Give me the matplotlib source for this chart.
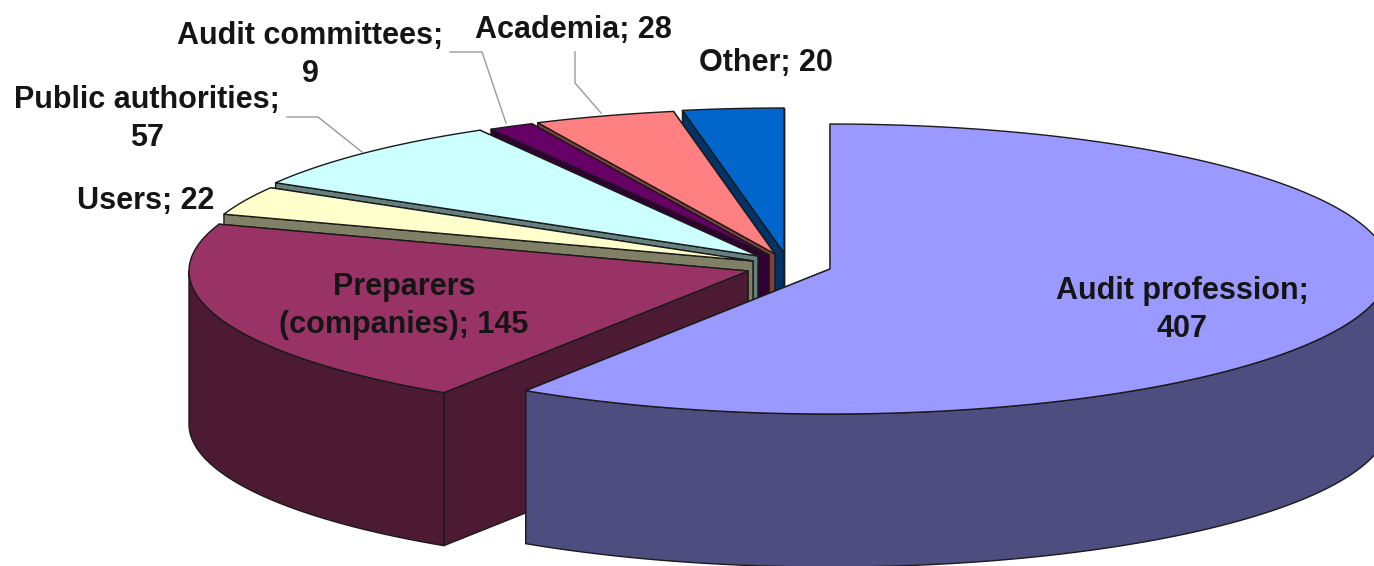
import numpy as np
import matplotlib
matplotlib.use("Agg")
import matplotlib.pyplot as plt
from matplotlib.patches import Polygon

# Data
categories = ["Audit profession", "Preparers\n(companies)", "Users", "Public authorities",
              "Audit committees", "Academia", "Other"]
values = [407, 145, 22, 57, 9, 28, 20]

# Style: colours and exploded apex of each slice (pixels)
top_colors = ["#9999FF", "#993366", "#FFFFCC", "#CCFFFF", "#660066", "#FF8080", "#0066CC"]
wall_colors = ["#4D4D80", "#4D1A33", "#808066", "#668080", "#330033", "#804040", "#003366"]
apex_x = [830, 748, 753, 758, 769, 775, 784]
apex_y = [269, 271, 261, 256, 255, 254, 253]
RX, RY, DEPTH = 559, 145, 153
START = 90.0

label_text = ["Audit profession;\n407", "Preparers\n(companies); 145", "Users; 22",
              "Public authorities;\n57", "Audit committees;\n9", "Academia; 28", "Other; 20"]
label_x = [1182, 404, 146, 147, 310, 573, 766]
label_y = [310, 306, 201, 119, 55, 30, 63]
leaders = [None, None, None,
           ([287, 318, 362], [117, 117, 152]),
           ([450, 482, 506], [52, 52, 123]),
           ([575, 575, 601], [52, 83, 113]),
           None]

fig = plt.figure(figsize=(13.74, 5.66), dpi=100)
ax = fig.add_axes([0, 0, 1, 1])
ax.set_xlim(0, 1374)
ax.set_ylim(566, 0)
ax.axis("off")

fractions = np.array(values) / np.sum(values)
ends = START - np.cumsum(fractions) * 360
starts = np.concatenate([[START], ends[:-1]])
EDGE = dict(edgecolor="#1a1a1a", linewidth=1.0, joinstyle="round")


def ring(cx, cy, a0, a1, n=200):
    t = np.radians(np.linspace(a0, a1, n))
    return np.column_stack([cx + RX * np.cos(t), cy - RY * np.sin(t)])


# Painter's order: back slices first
for i in range(len(values) - 1, -1, -1):
    cx, cy = apex_x[i], apex_y[i]
    a1, a0 = starts[i], ends[i]  # a1 > a0, clockwise from a1 to a0
    apex = np.array([[cx, cy]])
    down = np.array([0, DEPTH])
    arc = ring(cx, cy, a1, a0)
    # the radial face whose outer point is higher on screen lies behind the other
    for end_pt in sorted((arc[0], arc[-1]), key=lambda p: p[1]):
        face = np.array([apex[0], end_pt, end_pt + down, apex[0] + down])
        ax.add_patch(Polygon(face, closed=True, facecolor=wall_colors[i], zorder=i * -3 + 30, **EDGE))
    # outer wall: the part of the arc on the viewer's side (lower half of the ellipse)
    for lo, hi in ((-180, 0), (180, 360)):
        w0, w1 = max(a0, lo), min(a1, hi)
        if w1 > w0:
            w = ring(cx, cy, w0, w1)
            wall = np.vstack([w, (w + down)[::-1]])
            ax.add_patch(Polygon(wall, closed=True, facecolor=wall_colors[i], zorder=i * -3 + 31, **EDGE))
    ax.add_patch(Polygon(np.vstack([apex, arc]), closed=True, facecolor=top_colors[i],
                         zorder=i * -3 + 32, **EDGE))

for pts in leaders:
    if pts is not None:
        ax.plot(pts[0], pts[1], color="#9a9a9a", lw=1.0, zorder=50)

for t, x, y in zip(label_text, label_x, label_y):
    ax.text(x, y, t, ha="center", va="center", family=["Liberation Sans", "DejaVu Sans"],
            fontweight="bold", fontsize=22, color="#151515", linespacing=1.36, zorder=60)

fig.savefig("out.png", dpi=100, facecolor="white")
